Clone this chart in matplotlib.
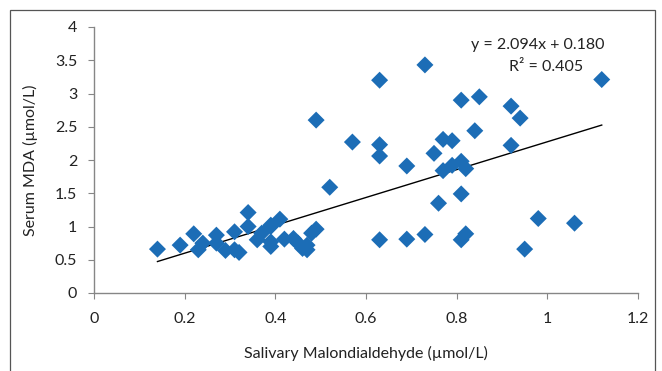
import matplotlib
matplotlib.use("Agg")
import matplotlib.pyplot as plt
from matplotlib.patches import Rectangle

plt.rcParams['font.family'] = ['Lato', 'DejaVu Sans']

salivary_mda = [0.14, 0.19, 0.22, 0.23, 0.24, 0.27, 0.27, 0.29, 0.31, 0.31, 0.32,
                0.34, 0.34, 0.36, 0.37, 0.39, 0.39, 0.39, 0.39, 0.41, 0.42, 0.44,
                0.45, 0.46, 0.47, 0.47, 0.48, 0.49, 0.49, 0.52, 0.57, 0.63, 0.63,
                0.63, 0.63, 0.69, 0.69, 0.73, 0.73, 0.75, 0.76, 0.77, 0.77, 0.79,
                0.79, 0.81, 0.81, 0.81, 0.81, 0.82, 0.82, 0.84, 0.85, 0.92, 0.92,
                0.94, 0.95, 0.98, 1.06, 1.12]
serum_mda = [0.66, 0.72, 0.89, 0.65, 0.75, 0.87, 0.75, 0.64, 0.92, 0.65, 0.61,
             1.21, 1.00, 0.80, 0.90, 1.00, 0.77, 0.70, 1.02, 1.11, 0.81, 0.82,
             0.75, 0.67, 0.65, 0.72, 0.90, 0.96, 2.60, 1.59, 2.27, 3.20, 2.23,
             2.06, 0.80, 1.91, 0.81, 3.43, 0.88, 2.10, 1.35, 2.31, 1.84, 2.29,
             1.92, 2.90, 1.98, 1.49, 0.80, 1.87, 0.89, 2.44, 2.95, 2.81, 2.22,
             2.63, 0.66, 1.12, 1.05, 3.21]

slope = 2.094
intercept = 0.180
r_squared = 0.405

x_ticks = [0, 0.2, 0.4, 0.6, 0.8, 1, 1.2]
y_ticks = [0, 0.5, 1, 1.5, 2, 2.5, 3, 3.5, 4]

W, H = 662, 371
fig = plt.figure(figsize=(W / 100, H / 100), dpi=100)
fig.patch.set_facecolor('white')

# outer frame
fig.add_artist(Rectangle((10 / W, -0.05), 645 / W, 1.05 - 10 / H,
                         transform=fig.transFigure, fill=False,
                         edgecolor='#555555', linewidth=0.9))

ax = fig.add_axes([94 / W, 1 - 293 / H, 544 / W, 266 / H])
ax.scatter(salivary_mda, serum_mda, marker='D', s=75, color='#1C6DB6',
           edgecolors='none', zorder=3)

xmin, xmax = min(salivary_mda), max(salivary_mda)
ax.plot([xmin, xmax], [slope * xmin + intercept, slope * xmax + intercept],
        color='black', linewidth=1.0, zorder=2)

ax.set_xlim(0, 1.2)
ax.set_ylim(0, 4)
ax.set_xticks(x_ticks)
ax.set_xticklabels(['0', '0.2', '0.4', '0.6', '0.8', '1', '1.2'])
ax.set_yticks(y_ticks)
ax.set_yticklabels(['0', '0.5', '1', '1.5', '2', '2.5', '3', '3.5', '4'])

for side in ['top', 'right']:
    ax.spines[side].set_visible(False)
for side in ['left', 'bottom']:
    ax.spines[side].set_color('#868686')
    ax.spines[side].set_linewidth(1.0)
ax.tick_params(axis='both', direction='out', length=4, color='#868686',
               labelsize=11.5, labelcolor='#222222')
ax.tick_params(axis='x', pad=10)
ax.tick_params(axis='y', pad=8)

ax.set_xlabel('Salivary Malondialdehyde (µmol/L)', fontsize=11.5, color='#222222',
              labelpad=14)
ax.set_ylabel('Serum MDA (µmol/L)', fontsize=11.5, color='#222222', labelpad=12)

fig.text(538 / W, 1 - 45 / H, f'y = {slope:.3f}x + {intercept:.3f}', ha='center',
         va='center', fontsize=11.5, color='#222222')
fig.text(546 / W, 1 - 67 / H, f'R² = {r_squared:.3f}', ha='center', va='center',
         fontsize=11.5, color='#222222')

fig.savefig('out.png', dpi=100, facecolor='white')
